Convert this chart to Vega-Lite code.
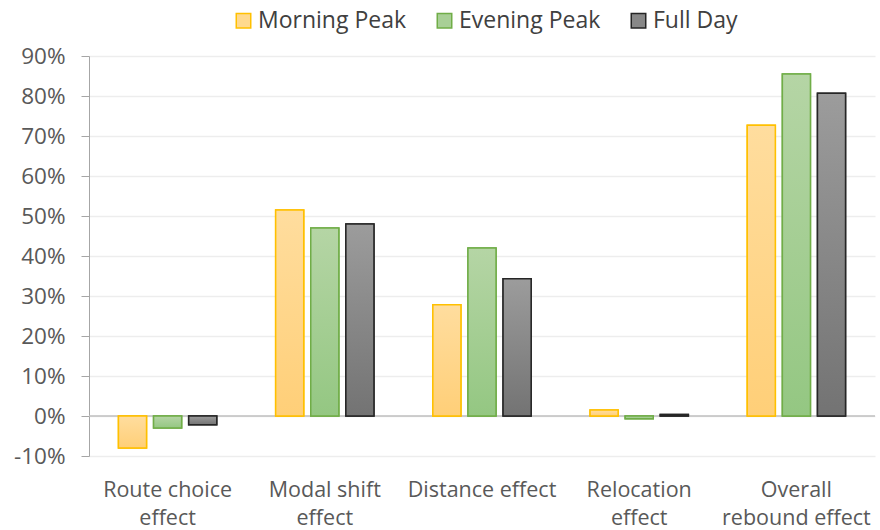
{
  "$schema": "https://vega.github.io/schema/vega-lite/v6.json",
  "autosize": {"type": "none"},
  "width": 786,
  "height": 400,
  "padding": {"left": 89, "top": 56, "right": 5, "bottom": 74},
  "background": "white",
  "config": {
    "view": {"stroke": null},
    "font": "Open Sans",
    "axis": {"labelFont": "Open Sans", "labelColor": "#595959", "labelFontSize": 22},
    "legend": {"labelFont": "Open Sans", "labelColor": "#404040", "labelFontSize": 23}
  },
  "data": {
    "values": [
      {"category": "Route choice effect", "series": "Morning Peak", "value": -0.08},
      {"category": "Route choice effect", "series": "Evening Peak", "value": -0.03},
      {"category": "Route choice effect", "series": "Full Day", "value": -0.022},
      {"category": "Modal shift effect", "series": "Morning Peak", "value": 0.515},
      {"category": "Modal shift effect", "series": "Evening Peak", "value": 0.47},
      {"category": "Modal shift effect", "series": "Full Day", "value": 0.48},
      {"category": "Distance effect", "series": "Morning Peak", "value": 0.278},
      {"category": "Distance effect", "series": "Evening Peak", "value": 0.42},
      {"category": "Distance effect", "series": "Full Day", "value": 0.343},
      {"category": "Relocation effect", "series": "Morning Peak", "value": 0.015},
      {"category": "Relocation effect", "series": "Evening Peak", "value": -0.007},
      {"category": "Relocation effect", "series": "Full Day", "value": 0.004},
      {"category": "Overall rebound effect", "series": "Morning Peak", "value": 0.727},
      {"category": "Overall rebound effect", "series": "Evening Peak", "value": 0.855},
      {"category": "Overall rebound effect", "series": "Full Day", "value": 0.807}
    ]
  },
  "encoding": {
    "x": {
      "field": "category",
      "type": "nominal",
      "sort": null,
      "scale": {"paddingInner": 0.33, "paddingOuter": 0.165},
      "axis": {
        "title": null,
        "domain": false,
        "ticks": false,
        "labelAngle": 0,
        "labelPadding": 23,
        "labelLineHeight": 28,
        "labelBaseline": "top",
        "labelFontSize": 21.5,
        "labelExpr": "datum.value == 'Route choice effect' ? ['Route choice', 'effect'] : datum.value == 'Modal shift effect' ? ['Modal shift', 'effect'] : datum.value == 'Relocation effect' ? ['Relocation', 'effect'] : datum.value == 'Overall rebound effect' ? ['Overall', 'rebound effect'] : datum.value"
      }
    },
    "xOffset": {
      "field": "series",
      "type": "nominal",
      "sort": ["Morning Peak", "Evening Peak", "Full Day"],
      "scale": {"paddingInner": 0.2, "paddingOuter": 0.1}
    },
    "y": {
      "field": "value",
      "type": "quantitative",
      "scale": {"domain": [-0.1, 0.9], "nice": false},
      "axis": {
        "title": null,
        "format": ".0%",
        "values": [-0.1, 0, 0.1, 0.2, 0.3, 0.4, 0.5, 0.6, 0.7, 0.8, 0.9],
        "tickCount": 20,
        "labelExpr": "replace(datum.label, '−', '-')",
        "labelOverlap": false,
        "labelFontSize": 22.5,
        "domainColor": "#A6A6A6",
        "tickColor": "#A6A6A6",
        "tickSize": 8,
        "labelPadding": 16,
        "gridColor": "#EDEDED",
        "gridWidth": 1.5
      }
    }
  },
  "layer": [
    {
      "mark": {"type": "rule", "color": "#BFBFBF", "strokeWidth": 1.5},
      "data": {"values": [{"z": 0}]},
      "encoding": {
        "x": null,
        "xOffset": null,
        "y": {"field": "z", "type": "quantitative"}
      }
    },
    {
      "mark": {"type": "bar", "strokeWidth": 1.5, "fillOpacity": 1},
      "encoding": {
        "fill": {
          "field": "series",
          "type": "nominal",
          "sort": ["Morning Peak", "Evening Peak", "Full Day"],
          "scale": {"domain": ["Morning Peak", "Evening Peak", "Full Day"], "range": ["#FFD98E", "#A8CF96", "#888888"]},
          "legend": {
            "title": null,
            "orient": "none",
            "direction": "horizontal",
            "legendX": 143,
            "legendY": -47,
            "symbolType": "square",
            "symbolSize": 210,
            "symbolStrokeWidth": 1.5,
            "columnPadding": 26,
            "labelOffset": 3
          }
        },
        "stroke": {
          "field": "series",
          "type": "nominal",
          "sort": ["Morning Peak", "Evening Peak", "Full Day"],
          "scale": {"domain": ["Morning Peak", "Evening Peak", "Full Day"], "range": ["#FFC000", "#70AD47", "#262626"]},
          "legend": {
            "title": null,
            "orient": "none",
            "direction": "horizontal",
            "legendX": 143,
            "legendY": -47,
            "symbolType": "square",
            "symbolSize": 210,
            "symbolStrokeWidth": 1.5,
            "columnPadding": 26,
            "labelOffset": 3
          }
        }
      }
    },
    {
      "mark": {"type": "bar", "strokeWidth": 1.5, "fillOpacity": 1},
      "encoding": {
        "fill": {
          "condition": [
            {"test": "datum.series == 'Morning Peak'", "value": {"gradient": "linear", "x1": 0, "y1": 0, "x2": 0, "y2": 1, "stops": [{"offset": 0, "color": "#FFDD9E"}, {"offset": 1, "color": "#FFCF78"}]}},
            {"test": "datum.series == 'Evening Peak'", "value": {"gradient": "linear", "x1": 0, "y1": 0, "x2": 0, "y2": 1, "stops": [{"offset": 0, "color": "#B5D5A5"}, {"offset": 1, "color": "#94C782"}]}}
          ],
          "value": {"gradient": "linear", "x1": 0, "y1": 0, "x2": 0, "y2": 1, "stops": [{"offset": 0, "color": "#9C9C9C"}, {"offset": 1, "color": "#737373"}]}
        },
        "stroke": {
          "condition": [
            {"test": "datum.series == 'Morning Peak'", "value": "#FFC000"},
            {"test": "datum.series == 'Evening Peak'", "value": "#70AD47"}
          ],
          "value": "#262626"
        }
      }
    }
  ]
}
